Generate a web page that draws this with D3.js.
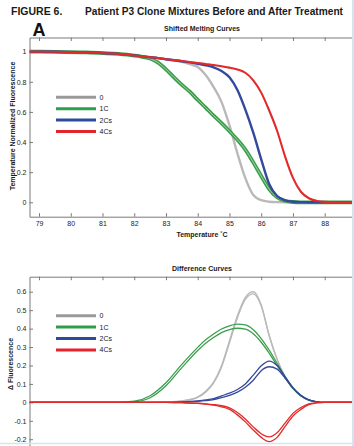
<!DOCTYPE html>
<html><head><meta charset="utf-8">
<script src="https://cdn.jsdelivr.net/npm/d3@7"></script>
<style>html,body{margin:0;padding:0;background:#fff;}svg{display:block;font-family:"Liberation Sans",Arial,Helvetica,sans-serif;}</style>
</head><body><svg id="c" width="354" height="446"></svg>
<script>
// ---------- DATA ----------
const seriesNames = ["0", "1C", "2Cs", "4Cs"];
const xTicks = [79, 80, 81, 82, 83, 84, 85, 86, 87, 88];
const yTicksTop = [0, 0.2, 0.4, 0.6, 0.8, 1];
const yTicksBottom = [-0.2, -0.1, 0, 0.1, 0.2, 0.3, 0.4, 0.5, 0.6];

// Shifted melting curves (temperature-normalized fluorescence)
const meltTemps = [78.7, 79.5, 80.5, 81.5, 82, 82.25, 82.5, 82.75, 83, 83.25, 83.5, 83.75, 84, 84.25, 84.5, 84.75, 85, 85.25, 85.5, 85.75, 86, 86.25, 86.5, 86.75, 87, 87.25, 87.5, 87.75, 88, 88.9];
const melt0   = [1.0, 0.999, 0.995, 0.985, 0.975, 0.969, 0.963, 0.957, 0.95, 0.942, 0.932, 0.917, 0.898, 0.845, 0.765, 0.665, 0.51, 0.325, 0.16, 0.048, 0.014, 0.004, 0.001, 0, 0, 0, 0, 0, 0, 0];
const melt1C  = [1.0, 0.999, 0.995, 0.985, 0.974, 0.966, 0.954, 0.927, 0.883, 0.83, 0.78, 0.734, 0.68, 0.628, 0.575, 0.525, 0.472, 0.415, 0.35, 0.265, 0.175, 0.088, 0.033, 0.01, 0.002, 0, 0, 0, 0, 0];
const melt2Cs = [1.0, 0.999, 0.995, 0.985, 0.975, 0.969, 0.963, 0.957, 0.95, 0.943, 0.936, 0.929, 0.92, 0.91, 0.896, 0.872, 0.83, 0.745, 0.615, 0.462, 0.285, 0.122, 0.042, 0.013, 0.004, 0.001, 0, 0, 0, 0];
const melt4Cs = [1.0, 0.999, 0.995, 0.985, 0.975, 0.969, 0.963, 0.957, 0.95, 0.944, 0.938, 0.931, 0.925, 0.918, 0.911, 0.903, 0.894, 0.882, 0.86, 0.81, 0.728, 0.61, 0.475, 0.305, 0.162, 0.07, 0.027, 0.009, 0.003, 0];

// Difference curves (two replicates each)
const diffTemps = [78.7, 81.5, 82, 82.5, 83, 83.5, 84, 84.25, 84.5, 84.75, 85, 85.25, 85.5, 85.75, 86, 86.25, 86.5, 86.75, 87, 87.25, 87.5, 87.75, 88, 88.9];
const diff0A   = [0, 0, 0, 0, 0.002, 0.008, 0.03, 0.06, 0.11, 0.2, 0.335, 0.47, 0.57, 0.6, 0.53, 0.365, 0.235, 0.14, 0.08, 0.038, 0.014, 0.003, 0, 0];
const diff0B   = [0, 0, 0, 0, 0.002, 0.007, 0.027, 0.055, 0.104, 0.19, 0.322, 0.458, 0.558, 0.588, 0.522, 0.36, 0.232, 0.138, 0.079, 0.037, 0.013, 0.003, 0, 0];
const diff1CA  = [0, 0, 0.006, 0.036, 0.106, 0.206, 0.298, 0.339, 0.371, 0.398, 0.415, 0.424, 0.42, 0.394, 0.346, 0.284, 0.212, 0.14, 0.077, 0.036, 0.012, 0.003, 0, 0];
const diff1CB  = [0, 0, 0.003, 0.025, 0.09, 0.188, 0.281, 0.321, 0.352, 0.378, 0.395, 0.402, 0.397, 0.372, 0.326, 0.267, 0.2, 0.134, 0.074, 0.034, 0.011, 0.003, 0, 0];
const diff2CsA = [0, 0, 0, 0, 0, 0.002, 0.008, 0.013, 0.02, 0.035, 0.05, 0.07, 0.1, 0.148, 0.198, 0.224, 0.2, 0.14, 0.08, 0.038, 0.014, 0.003, 0, 0];
const diff2CsB = [0, 0, 0, 0, 0, 0.001, 0.005, 0.009, 0.015, 0.026, 0.038, 0.055, 0.082, 0.12, 0.172, 0.193, 0.18, 0.132, 0.077, 0.036, 0.013, 0.003, 0, 0];
const diff4CsA = [0, 0, 0, 0, 0, -0.002, -0.005, -0.008, -0.012, -0.018, -0.03, -0.055, -0.09, -0.133, -0.17, -0.187, -0.165, -0.113, -0.06, -0.028, -0.008, -0.002, 0, 0];
const diff4CsB = [0, 0, 0, 0, 0, -0.002, -0.006, -0.01, -0.015, -0.024, -0.038, -0.068, -0.106, -0.15, -0.19, -0.213, -0.19, -0.132, -0.074, -0.038, -0.012, -0.003, 0, 0];

// ---------- STYLE ----------
const lineColors   = ["#b9b9b9", "#3c9e4c", "#34489c", "#e22a2a"];
const legendColors = ["#9a9a9a", "#2f9e4a", "#2d4b9b", "#e5232b"];
const FONT = '"Liberation Sans",Arial,Helvetica,sans-serif';

const svg = d3.select("#c");

// ---------- HEADINGS ----------
svg.append("text").attr("x", 11).attr("y", 15).attr("font-size", 10.5).attr("font-weight", "bold")
  .attr("fill", "#1a1a1a").text("FIGURE 6.");
svg.append("text").attr("x", 85).attr("y", 15).attr("font-size", 10.5).attr("font-weight", "bold")
  .attr("fill", "#1a1a1a").attr("textLength", 258).attr("lengthAdjust", "spacingAndGlyphs")
  .text("Patient P3 Clone Mixtures Before and After Treatment");
svg.append("text").attr("x", 32.5).attr("y", 35.5).attr("font-size", 18).attr("font-weight", "bold")
  .attr("fill", "#111").text("A");

function fmt(d) { return String(+d.toFixed(1)); }

function panel(cfg) {
  const x = d3.scaleLinear().domain([78.7, 88.86]).range([cfg.left, cfg.right]);
  const y = d3.scaleLinear().domain(cfg.yDomain).range([cfg.bottom, cfg.top]);
  const g = svg.append("g");

  const clipId = "clip" + cfg.id;
  svg.append("clipPath").attr("id", clipId).append("rect")
    .attr("x", cfg.left).attr("y", cfg.top).attr("width", cfg.right - cfg.left).attr("height", cfg.bottom - cfg.top);

  // axes
  const axTop = g.append("g").attr("transform", `translate(0,${cfg.top})`)
    .call(d3.axisTop(x).tickValues(xTicks).tickSize(-3.5).tickSizeOuter(0).tickFormat(""));
  if (cfg.bottomAxis) {
    g.append("g").attr("transform", `translate(0,${cfg.bottom})`)
      .call(d3.axisBottom(x).tickValues(xTicks).tickSize(-3.5).tickSizeOuter(0).tickPadding(4).tickFormat(d3.format("d")));
  }
  g.append("g").attr("transform", `translate(${cfg.left},0)`)
    .call(d3.axisLeft(y).tickValues(cfg.yTicks).tickSize(-3.5).tickSizeOuter(0).tickPadding(3).tickFormat(fmt));
  g.selectAll(".domain").attr("stroke", "#7a7a7a").attr("stroke-width", 1);
  g.selectAll(".tick line").attr("stroke", "#7a7a7a");
  g.selectAll(".tick text").attr("font-size", 7).attr("fill", "#222").attr("font-family", FONT);

  // title
  svg.append("text").attr("x", 202).attr("y", cfg.titleY).attr("text-anchor", "middle")
    .attr("font-size", 7).attr("font-weight", "bold").attr("fill", "#1a1a1a").text(cfg.title);

  // y label
  svg.append("text").attr("transform", `translate(${cfg.yLabelX},${cfg.yLabelY}) rotate(-90)`)
    .attr("text-anchor", "middle").attr("font-size", 7).attr("font-weight", "bold").attr("fill", "#1a1a1a")
    .text(cfg.yLabel);

  const line = d3.line().x(d => x(d[0])).y(d => y(d[1])).curve(d3.curveMonotoneX);
  const lg = svg.append("g").attr("clip-path", `url(#${clipId})`);
  cfg.draw(lg, line);

  // legend
  const leg = svg.append("g");
  seriesNames.forEach((n, i) => {
    const yy = cfg.legendY + i * 11.4;
    leg.append("line").attr("x1", 56).attr("x2", 96).attr("y1", yy).attr("y2", yy)
      .attr("stroke", legendColors[i]).attr("stroke-width", 3);
    leg.append("text").attr("x", 99.5).attr("y", yy + 2.5).attr("font-size", 7).attr("fill", "#1a1a1a").text(n);
  });
  return { x, y };
}

// ---------- TOP PANEL ----------
const meltSeries = [melt0, melt1C, melt2Cs, melt4Cs];
panel({
  id: "t", left: 29.5, right: 352, top: 37.5, bottom: 216.7,
  yDomain: [-0.0956, 1.094], yTicks: yTicksTop, bottomAxis: true,
  title: "Shifted Melting Curves", titleY: 30.5,
  yLabel: "Temperature Normalized Fluorescence", yLabelX: 15.3, yLabelY: 126,
  legendY: 97.3,
  draw: (lg, line) => {
    meltSeries.forEach((vals, i) => {
      const pts = meltTemps.map((t, k) => [t, vals[k]]);
      const w = i === 1 ? 3.8 : (i === 3 ? 2.1 : 2.4);
      lg.append("path").attr("d", line(pts)).attr("fill", "none")
        .attr("stroke", lineColors[i]).attr("stroke-width", w);
      if (i === 1) {
        lg.append("path").attr("d", line(pts)).attr("fill", "none")
          .attr("stroke", "#a9d8ae").attr("stroke-width", 0.9);
      }
    });
  }
});
svg.append("text").attr("x", 202).attr("y", 236.5).attr("text-anchor", "middle")
  .attr("font-size", 7).attr("font-weight", "bold").attr("fill", "#1a1a1a").text("Temperature ˚C");

// ---------- BOTTOM PANEL ----------
const diffSeries = [[diff0A, diff0B], [diff1CA, diff1CB], [diff2CsA, diff2CsB], [diff4CsA, diff4CsB]];
panel({
  id: "b", left: 29.5, right: 352, top: 276.7, bottom: 450,
  yDomain: [-0.2585, 0.6815], yTicks: yTicksBottom, bottomAxis: false,
  title: "Difference Curves", titleY: 271,
  yLabel: "Δ Fluorescence", yLabelX: 13, yLabelY: 364,
  legendY: 315.7,
  draw: (lg, line) => {
    diffSeries.forEach((reps, i) => {
      reps.forEach(vals => {
        const pts = diffTemps.map((t, k) => [t, vals[k]]);
        lg.append("path").attr("d", line(pts)).attr("fill", "none")
          .attr("stroke", lineColors[i]).attr("stroke-width", 1.3);
      });
    });
  }
});

// light frame on right / bottom edges
svg.append("line").attr("x1", 353).attr("x2", 353).attr("y1", 0).attr("y2", 446)
  .attr("stroke", "#d3e5ee").attr("stroke-width", 2);
svg.append("line").attr("x1", 0).attr("x2", 354).attr("y1", 443.5).attr("y2", 443.5)
  .attr("stroke", "#d3e5ee").attr("stroke-width", 1.5);
</script></body></html>
